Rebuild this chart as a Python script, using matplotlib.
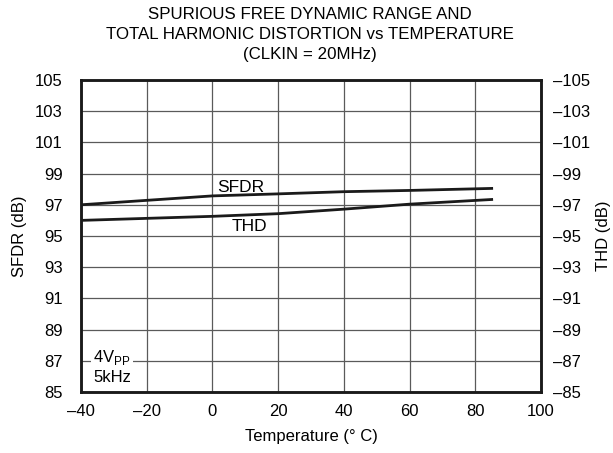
import matplotlib
matplotlib.use('Agg')
import matplotlib.pyplot as plt
import numpy as np

plt.rcParams['font.family'] = ['Liberation Sans', 'DejaVu Sans']

temp = [-40, 0, 20, 40, 60, 85]
sfdr = [97.0, 97.57, 97.7, 97.84, 97.92, 98.05]
thd = [-96.0, -96.26, -96.43, -96.72, -97.04, -97.34]

x_ticks = [-40, -20, 0, 20, 40, 60, 80, 100]
y_ticks = [85, 87, 89, 91, 93, 95, 97, 99, 101, 103, 105]
y2_ticks = [-85, -87, -89, -91, -93, -95, -97, -99, -101, -103, -105]

fig = plt.figure(figsize=(6.13, 4.53), dpi=100)
ax = fig.add_axes([0.132, 0.1347, 0.7505, 0.6887])
ax2 = ax.twinx()

ax.plot(temp, sfdr, color='#1a1a1a', linewidth=2.0)
ax2.plot(temp, thd, color='#1a1a1a', linewidth=2.0)

ax.set_xlim(-40, 100)
ax.set_ylim(85, 105)
ax2.set_ylim(-85, -105)
ax.set_xticks(x_ticks)
ax.set_yticks(y_ticks)
ax2.set_yticks(y2_ticks)
ax.set_xticklabels([str(v).replace('-', '\u2013') for v in x_ticks])
ax.set_yticklabels([str(v) for v in y_ticks])
ax2.set_yticklabels([str(v).replace('-', '\u2013') for v in y2_ticks])

ax.grid(True, color='#5a5a5a', linewidth=0.9)
ax.set_axisbelow(True)
for a in (ax, ax2):
    for s in a.spines.values():
        s.set_linewidth(1.8)
        s.set_color('#1a1a1a')
ax.tick_params(axis='x', length=0, labelsize=12, pad=9)
ax.tick_params(axis='y', length=0, labelsize=12, pad=13)
ax2.tick_params(axis='y', length=0, labelsize=12, pad=9)

ax.set_xlabel('Temperature (\u00b0 C)', fontsize=12, labelpad=7)
ax.set_ylabel('SFDR (dB)', fontsize=12, labelpad=6)
ax2.set_ylabel('THD (dB)', fontsize=12, labelpad=4)

ax.text(1.4, 97.85, 'SFDR', fontsize=12.5, ha='left', va='baseline')
ax.text(6.0, 95.3, 'THD', fontsize=12.5, ha='left', va='baseline')
ax.text(-36.3, 85.64, '4V$_{\\mathregular{PP}}$\n5kHz', fontsize=12,
        ha='left', va='baseline', linespacing=1.25,
        bbox=dict(facecolor='white', edgecolor='none', pad=1.5))

fig.text(0.505, 0.984, 'SPURIOUS FREE DYNAMIC RANGE AND\n'
         'TOTAL HARMONIC DISTORTION vs TEMPERATURE\n(CLKIN = 20MHz)',
         ha='center', va='top', fontsize=12.2, linespacing=1.42)

plt.savefig('out.png', dpi=100)
plt.close()
